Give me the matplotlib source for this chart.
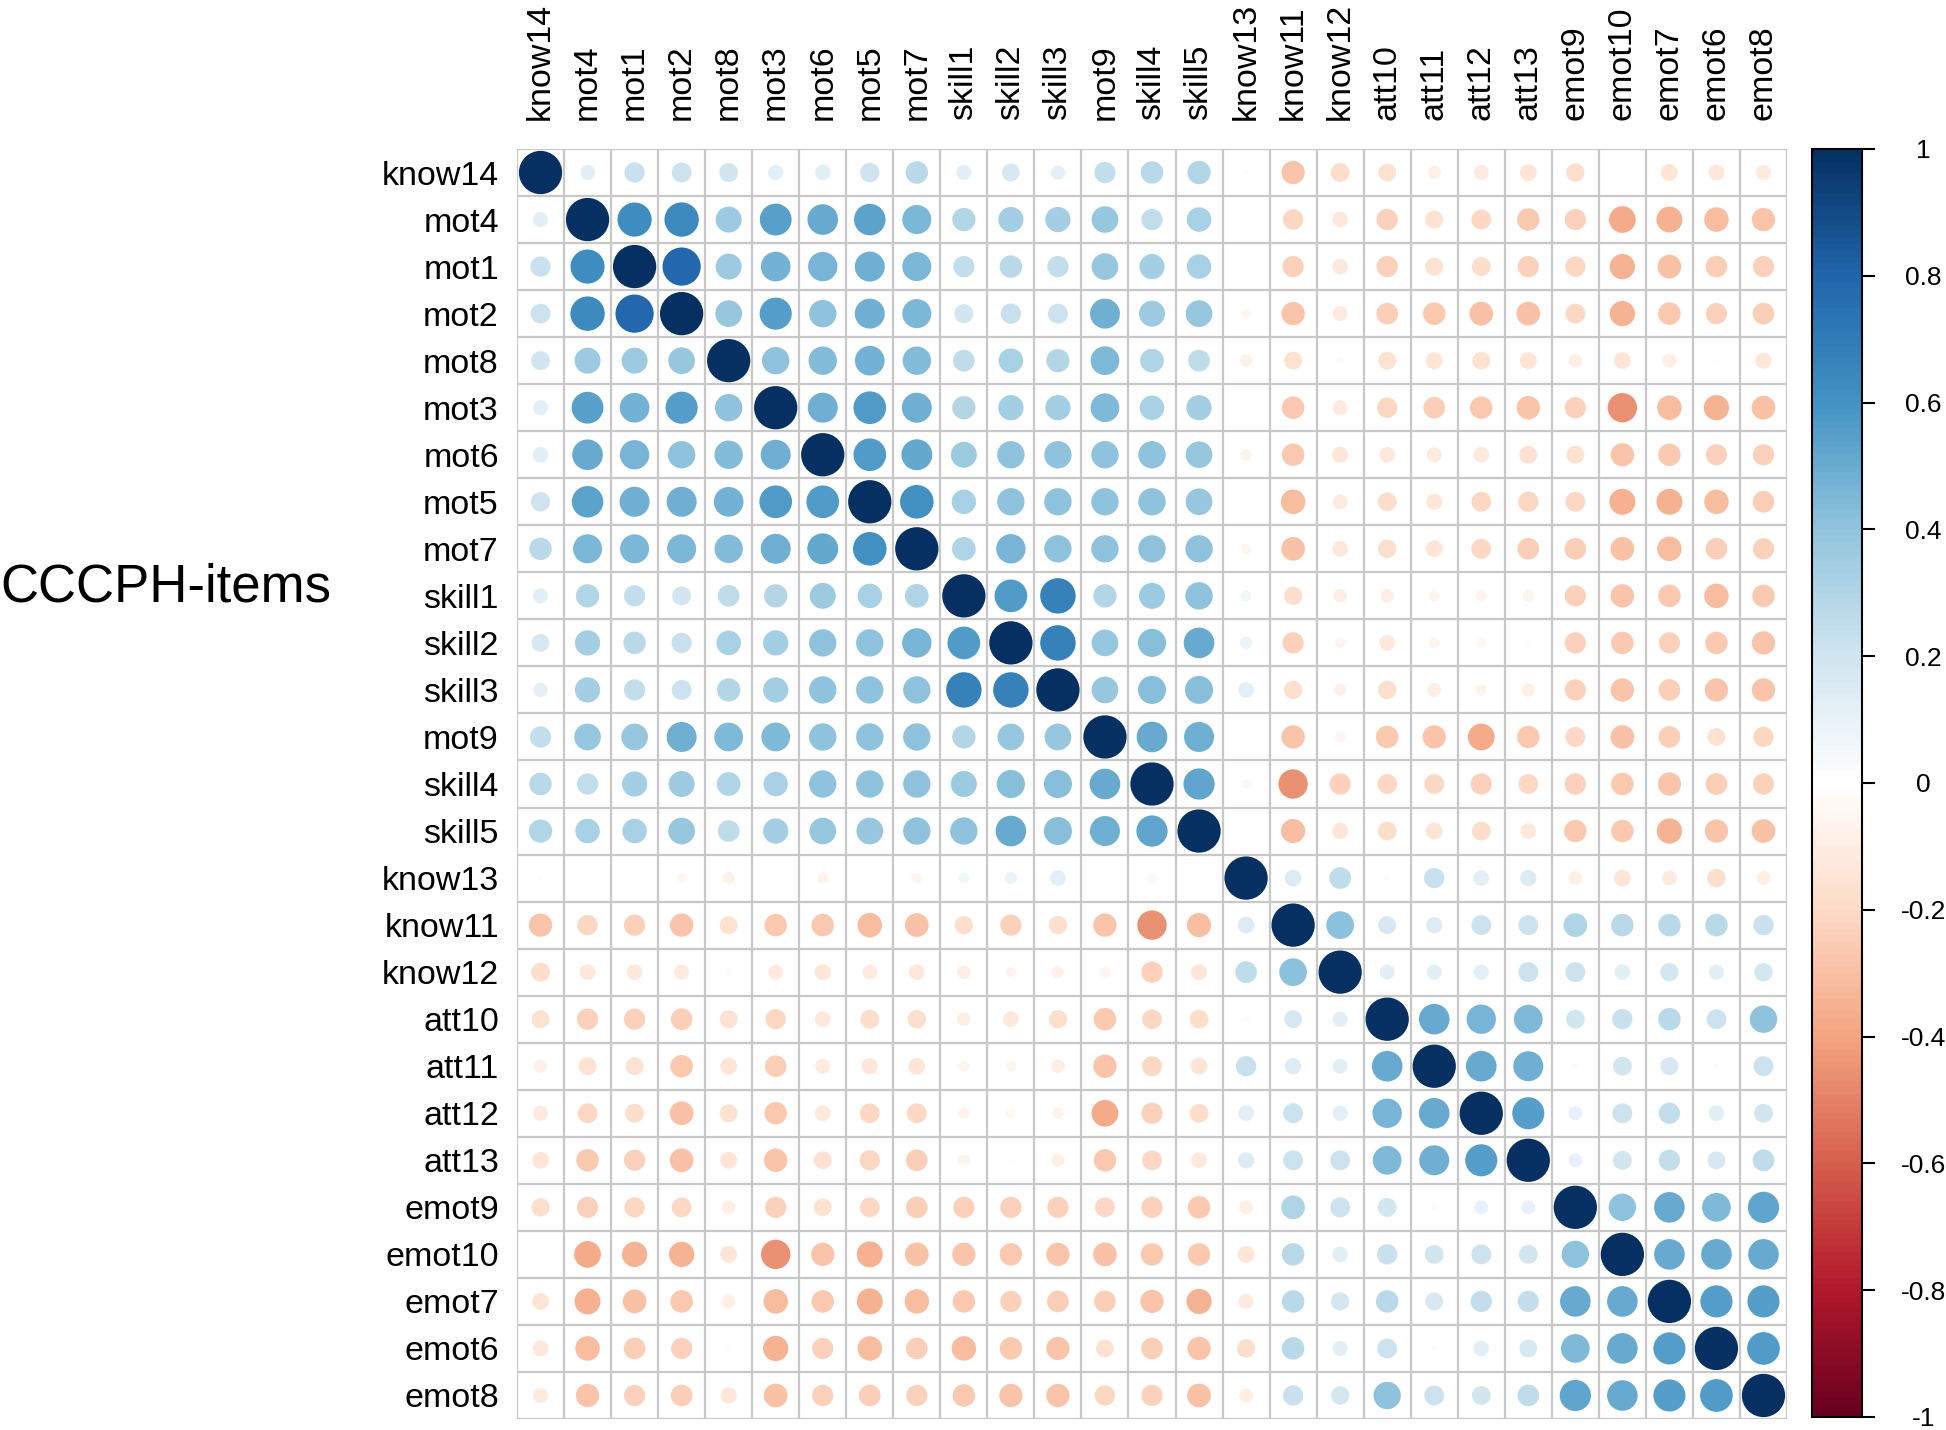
"""
Correlation plot of the CCCPH items, corrplot style (circles)
"""

import numpy as np
import matplotlib
matplotlib.use("Agg")
import matplotlib.pyplot as plt
from matplotlib.patches import Circle
from matplotlib.colors import LinearSegmentedColormap, Normalize
from matplotlib.cm import ScalarMappable

plt.rcParams['font.family'] = ['Liberation Sans', 'DejaVu Sans']
plt.rcParams['axes.unicode_minus'] = False

items = ["know14", "mot4", "mot1", "mot2", "mot8", "mot3", "mot6", "mot5", "mot7",
         "skill1", "skill2", "skill3", "mot9", "skill4", "skill5", "know13", "know11",
         "know12", "att10", "att11", "att12", "att13", "emot9", "emot10", "emot7",
         "emot6", "emot8"]

# lower triangle of the correlation matrix, row i holds columns 0..i-1
lower = [
    [],
    [0.12],
    [0.22, 0.62],
    [0.21, 0.63, 0.78],
    [0.19, 0.36, 0.36, 0.38],
    [0.12, 0.54, 0.47, 0.55, 0.40],
    [0.13, 0.50, 0.46, 0.40, 0.43, 0.48],
    [0.20, 0.53, 0.48, 0.48, 0.47, 0.57, 0.57],
    [0.27, 0.45, 0.45, 0.45, 0.43, 0.48, 0.51, 0.60],
    [0.12, 0.29, 0.24, 0.19, 0.25, 0.29, 0.36, 0.32, 0.30],
    [0.17, 0.34, 0.27, 0.22, 0.32, 0.34, 0.40, 0.40, 0.46, 0.57],
    [0.11, 0.34, 0.24, 0.21, 0.29, 0.34, 0.40, 0.40, 0.40, 0.67, 0.67],
    [0.24, 0.38, 0.38, 0.48, 0.44, 0.44, 0.40, 0.40, 0.40, 0.29, 0.38, 0.38],
    [0.27, 0.24, 0.34, 0.36, 0.30, 0.32, 0.40, 0.40, 0.40, 0.36, 0.42, 0.42, 0.50],
    [0.29, 0.32, 0.32, 0.38, 0.25, 0.34, 0.38, 0.38, 0.40, 0.40, 0.50, 0.42, 0.48, 0.52],
    [0.01, -0.005, -0.01, -0.05, -0.08, 0.0, -0.07, -0.01, -0.06, 0.06, 0.08, 0.13,
     -0.01, -0.05, -0.01],
    [-0.29, -0.22, -0.24, -0.29, -0.17, -0.27, -0.27, -0.32, -0.30, -0.18, -0.24, -0.18,
     -0.29, -0.46, -0.31, 0.15],
    [-0.19, -0.13, -0.13, -0.12, -0.03, -0.12, -0.14, -0.12, -0.13, -0.10, -0.06, -0.08,
     -0.06, -0.24, -0.14, 0.25, 0.41],
    [-0.17, -0.24, -0.24, -0.25, -0.17, -0.22, -0.13, -0.19, -0.18, -0.10, -0.13, -0.18,
     -0.27, -0.21, -0.19, 0.02, 0.17, 0.12],
    [-0.09, -0.17, -0.17, -0.27, -0.15, -0.25, -0.12, -0.14, -0.15, -0.06, -0.06, -0.10,
     -0.29, -0.21, -0.15, 0.22, 0.14, 0.12, 0.50],
    [-0.12, -0.21, -0.19, -0.30, -0.17, -0.27, -0.13, -0.21, -0.21, -0.07, -0.05, -0.07,
     -0.38, -0.24, -0.19, 0.13, 0.21, 0.12, 0.46, 0.50],
    [-0.15, -0.27, -0.24, -0.30, -0.15, -0.29, -0.17, -0.22, -0.25, -0.07, -0.02, -0.09,
     -0.27, -0.21, -0.13, 0.14, 0.21, 0.21, 0.44, 0.48, 0.55],
    [-0.18, -0.24, -0.22, -0.21, -0.10, -0.24, -0.17, -0.21, -0.25, -0.24, -0.24, -0.24,
     -0.21, -0.24, -0.27, -0.10, 0.30, 0.21, 0.19, 0.02, 0.10, 0.10],
    [-0.01, -0.38, -0.34, -0.34, -0.15, -0.46, -0.29, -0.36, -0.30, -0.29, -0.27, -0.29,
     -0.30, -0.27, -0.27, -0.15, 0.27, 0.13, 0.22, 0.19, 0.21, 0.19, 0.40],
    [-0.15, -0.36, -0.30, -0.27, -0.10, -0.32, -0.27, -0.36, -0.32, -0.27, -0.24, -0.25,
     -0.25, -0.29, -0.34, -0.12, 0.27, 0.18, 0.27, 0.17, 0.24, 0.24, 0.50, 0.50],
    [-0.13, -0.32, -0.25, -0.24, -0.02, -0.34, -0.24, -0.32, -0.25, -0.32, -0.27, -0.29,
     -0.17, -0.25, -0.29, -0.18, 0.27, 0.12, 0.21, 0.02, 0.13, 0.17, 0.44, 0.50, 0.55],
    [-0.12, -0.29, -0.24, -0.25, -0.14, -0.30, -0.24, -0.25, -0.24, -0.27, -0.29, -0.29,
     -0.22, -0.24, -0.30, -0.10, 0.22, 0.18, 0.40, 0.21, 0.19, 0.25, 0.52, 0.50, 0.55, 0.57],
]

cbar_ticks = [1, 0.8, 0.6, 0.4, 0.2, 0, -0.2, -0.4, -0.6, -0.8, -1]
cbar_labels = ["1", "0.8", "0.6", "0.4", "0.2", "0", "-0.2", "-0.4", "-0.6", "-0.8", "-1"]

# build full symmetric matrix
n = len(items)
corr = np.eye(n)
for i, row in enumerate(lower):
    for j, v in enumerate(row):
        corr[i, j] = v
        corr[j, i] = v

# corrplot RdBu palette
cmap = LinearSegmentedColormap.from_list("corrRdBu", [
    "#67001F", "#B2182B", "#D6604D", "#F4A582", "#FDDBC7", "#FFFFFF",
    "#D1E5F0", "#92C5DE", "#4393C3", "#2166AC", "#053061"], N=200)
norm = Normalize(-1, 1)

fig = plt.figure(figsize=(19.46, 14.30), dpi=100)
ax = fig.add_axes([517/1946, 11/1430, 1270/1946, 1270/1430])

for i in range(n):
    for j in range(n):
        r = corr[i, j]
        ax.add_patch(Circle((j, i), 0.46*np.sqrt(abs(r)), facecolor=cmap(norm(r)),
                            edgecolor="none", zorder=2))

# cell grid
for k in range(n+1):
    ax.axhline(k-0.5, color="#C8C8C8", lw=1.6, zorder=1)
    ax.axvline(k-0.5, color="#C8C8C8", lw=1.6, zorder=1)

ax.set_xlim(-0.5, n-0.5)
ax.set_ylim(n-0.5, -0.5)
ax.set_aspect("auto")
for s in ax.spines.values():
    s.set_visible(False)

ax.set_xticks(range(n))
ax.set_xticklabels(items, rotation=90, fontsize=24.5)
ax.xaxis.tick_top()
ax.set_yticks(range(n))
ax.set_yticklabels(items, fontsize=24.5)
ax.tick_params(axis="y", length=0, pad=13)
ax.tick_params(axis="x", length=0, pad=21)

fig.text(0.0, 1-587/1430, "CCCPH-items", fontsize=38, ha="left", va="center")

# colour legend
cax = fig.add_axes([1812/1946, 13/1430, 50/1946, 1268/1430])
cb = fig.colorbar(ScalarMappable(norm=norm, cmap=cmap), cax=cax, ticks=cbar_ticks)
cb.set_ticklabels(cbar_labels)
cb.outline.set_linewidth(1.5)
cax.tick_params(length=9, width=1.5, pad=35, labelsize=19)
for lab in cax.get_yticklabels():
    lab.set_horizontalalignment("center")

fig.savefig("out.png", dpi=100)
